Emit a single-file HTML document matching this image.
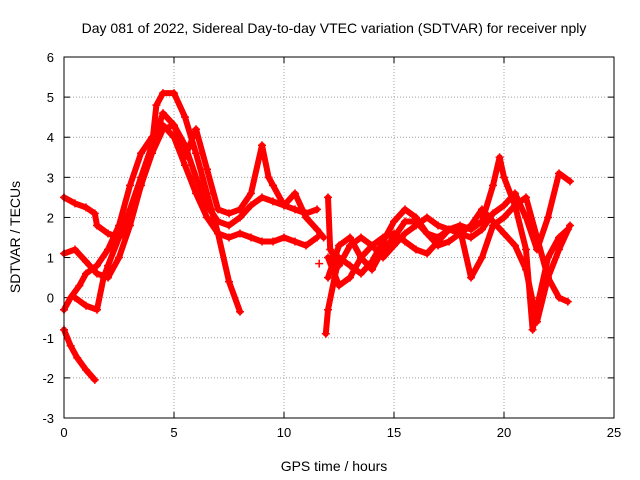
<!DOCTYPE html>
<html><head><meta charset="utf-8">
<style>
body{margin:0;background:#fff;}
svg{display:block;font-family:"Liberation Sans",sans-serif;}
</style></head>
<body>
<svg id="chart" width="640" height="480">
<text x="334" y="33" text-anchor="middle" font-size="14" fill="#000">Day 081 of 2022, Sidereal Day-to-day VTEC variation (SDTVAR) for receiver nply</text>
<text x="334" y="471" text-anchor="middle" font-size="14" fill="#000">GPS time / hours</text>
<text transform="translate(20,237) rotate(-90)" text-anchor="middle" font-size="14" fill="#000">SDTVAR / TECUs</text>
<g id="grid"></g>
<g id="ticks"></g>
<g id="series"></g>
<rect x="64" y="57" width="550" height="361" fill="none" stroke="#000" stroke-width="1"/>
</svg>
<script>
const xTicks=[0,5,10,15,20,25];
const yTicks=[-3,-2,-1,0,1,2,3,4,5,6];
const trackA=[[0,2.5],[0.5,2.35],[1,2.25],[1.4,2.1],[1.5,1.8],[2,1.6],[2.5,1.5],[3,1.9],[3.5,2.8],[4,3.6],[4.5,4.2],[5,4.3],[5.5,3.8],[6,3.0],[6.5,2.3],[7,1.9],[7.5,1.8],[8,2.0],[8.5,2.3],[9,2.5],[9.5,2.4],[10,2.3],[10.5,2.2],[11,2.1],[11.5,2.2]];
const trackB=[[0,1.1],[0.5,1.2],[1,0.9],[1.5,0.6],[2,0.5],[2.5,1.0],[3,1.8],[3.5,2.8],[4,3.8],[4.2,4.8],[4.5,5.1],[5,5.1],[5.5,4.5],[6,3.6],[6.5,2.6],[7,1.6],[7.5,0.4],[8,-0.35]];
const trackC=[[0,-0.8],[0.3,-1.2],[0.6,-1.5],[1,-1.8],[1.4,-2.05]];
const trackD=[[0,-0.3],[0.3,0.0],[0.7,0.3],[1,0.6],[1.5,0.8],[2,1.2],[2.5,1.8],[3,2.8],[3.5,3.6],[4,4.0],[4.5,4.3],[5,4.0],[5.5,3.3],[6,2.6],[6.5,2.0],[7,1.6],[7.5,1.5],[8,1.6],[8.5,1.5],[9,1.4],[9.5,1.4],[10,1.5],[10.5,1.4],[11,1.3],[11.5,1.5]];
const trackE=[[0.5,0.0],[1,-0.2],[1.5,-0.3],[1.8,0.5],[2,0.8],[2.5,1.5],[3,2.2],[3.5,3.0],[4,3.8],[4.5,4.6],[5,4.3],[5.5,3.5],[6,4.2],[6.5,3.2],[7,2.2],[7.5,2.1],[8,2.2],[8.5,2.6],[9,3.8],[9.3,3.0],[9.5,2.8],[10,2.3],[10.5,2.6],[11,2.0],[11.5,1.7],[11.8,1.5]];
const trackF=[[11.9,-0.9],[12,-0.3],[12.3,0.5],[12.5,1.0],[13,0.8],[13.5,0.6],[14,0.9],[14.5,1.4],[15,1.9],[15.5,2.2],[16,2.0],[16.5,1.6],[17,1.5],[17.5,1.7],[18,1.8],[18.5,1.7],[19,1.9],[19.5,2.8],[19.8,3.5],[20,3.0],[20.5,2.3],[21,1.2],[21.3,-0.8],[21.6,0.0],[22,1.0],[22.5,1.5],[22.9,1.7]];
const trackG=[[12,2.5],[12.1,1.2],[12.5,0.8],[13,1.3],[13.5,1.5],[14,1.3],[14.5,1.0],[15,1.3],[15.5,1.6],[16,1.8],[16.5,2.0],[17,1.8],[17.5,1.7],[18,1.6],[18.5,1.5],[19,1.7],[19.5,2.1],[20,2.3],[20.5,2.6],[21,2.0],[21.5,1.2],[22,2.0],[22.5,3.1],[23,2.9]];
const trackH=[[12,1.0],[12.5,0.3],[13,0.5],[13.5,1.0],[14,1.3],[14.5,1.5],[15,1.6],[15.5,1.4],[16,1.2],[16.5,1.1],[17,1.4],[17.5,1.7],[18,1.7],[18.5,0.5],[19,1.0],[19.5,1.8],[20,2.0],[20.5,2.3],[21,2.5],[21.5,1.5],[22,0.5],[22.5,0.0],[22.9,-0.1]];
const trackI=[[12,0.5],[12.5,1.3],[13,1.5],[13.5,1.0],[14,0.7],[14.5,1.2],[15,1.5],[15.5,1.9],[16,1.9],[16.5,1.6],[17,1.3],[17.5,1.4],[18,1.6],[18.5,1.8],[19,2.2],[19.5,1.9],[20,1.6],[20.5,1.3],[21,0.7],[21.5,-0.6],[22,0.5],[22.5,1.2],[23,1.8]];
const isolated=[[11.6,0.85]];
const tracks=[trackA,trackB,trackC,trackD,trackE,trackF,trackG,trackH,trackI,isolated];

const NS="http://www.w3.org/2000/svg";
const X0=64,X1=614,Y0=418,Y1=57,XMIN=0,XMAX=25,YMIN=-3,YMAX=6;
function sx(v){return X0+(v-XMIN)/(XMAX-XMIN)*(X1-X0);}
function sy(v){return Y0-(v-YMIN)/(YMAX-YMIN)*(Y0-Y1);}
function mk(tag,attrs,parent){const e=document.createElementNS(NS,tag);for(const k in attrs)e.setAttribute(k,attrs[k]);parent.appendChild(e);return e;}
const grid=document.getElementById('grid'),ticks=document.getElementById('ticks'),ser=document.getElementById('series');
xTicks.forEach(t=>{
  const x=sx(t);
  if(t>XMIN&&t<XMAX){const g=mk('line',{x1:x,x2:x,y1:Y1,y2:Y0,stroke:'#a0a0a0','stroke-dasharray':'1,2'},grid);
  
  }
  mk('line',{x1:x,x2:x,y1:Y0,y2:Y0-6,stroke:'#000'},ticks);
  mk('line',{x1:x,x2:x,y1:Y1,y2:Y1+6,stroke:'#000'},ticks);
  const l=mk('text',{x:x,y:Y0+19,'text-anchor':'middle','font-size':'13'},ticks);l.textContent=t;
  
  
});
yTicks.forEach(t=>{
  const y=sy(t);
  if(t>YMIN&&t<YMAX){const g=mk('line',{x1:X0,x2:X1,y1:y,y2:y,stroke:'#a0a0a0','stroke-dasharray':'1,2'},grid);
  
  }
  mk('line',{x1:X0,x2:X0+6,y1:y,y2:y,stroke:'#000'},ticks);
  mk('line',{x1:X1,x2:X1-6,y1:y,y2:y,stroke:'#000'},ticks);
  const l=mk('text',{x:X0-10,y:y+5,'text-anchor':'end','font-size':'13'},ticks);l.textContent=t;
  
  
});
tracks.forEach((tr,i)=>{
  const p=mk('polyline',{points:tr.map(d=>sx(d[0])+','+sy(d[1])).join(' '),fill:'none',stroke:'#f00','stroke-width':'6','stroke-linejoin':'round','stroke-linecap':'round'},ser);
  
  
  tr.forEach(d=>{
    const x=sx(d[0]),y=sy(d[1]);
    const m=mk('path',{d:`M${x-4},${y}H${x+4}M${x},${y-4}V${y+4}`,stroke:'#f00','stroke-width':'1.5'},ser);
    
    
  });
});
</script>
</body></html>
